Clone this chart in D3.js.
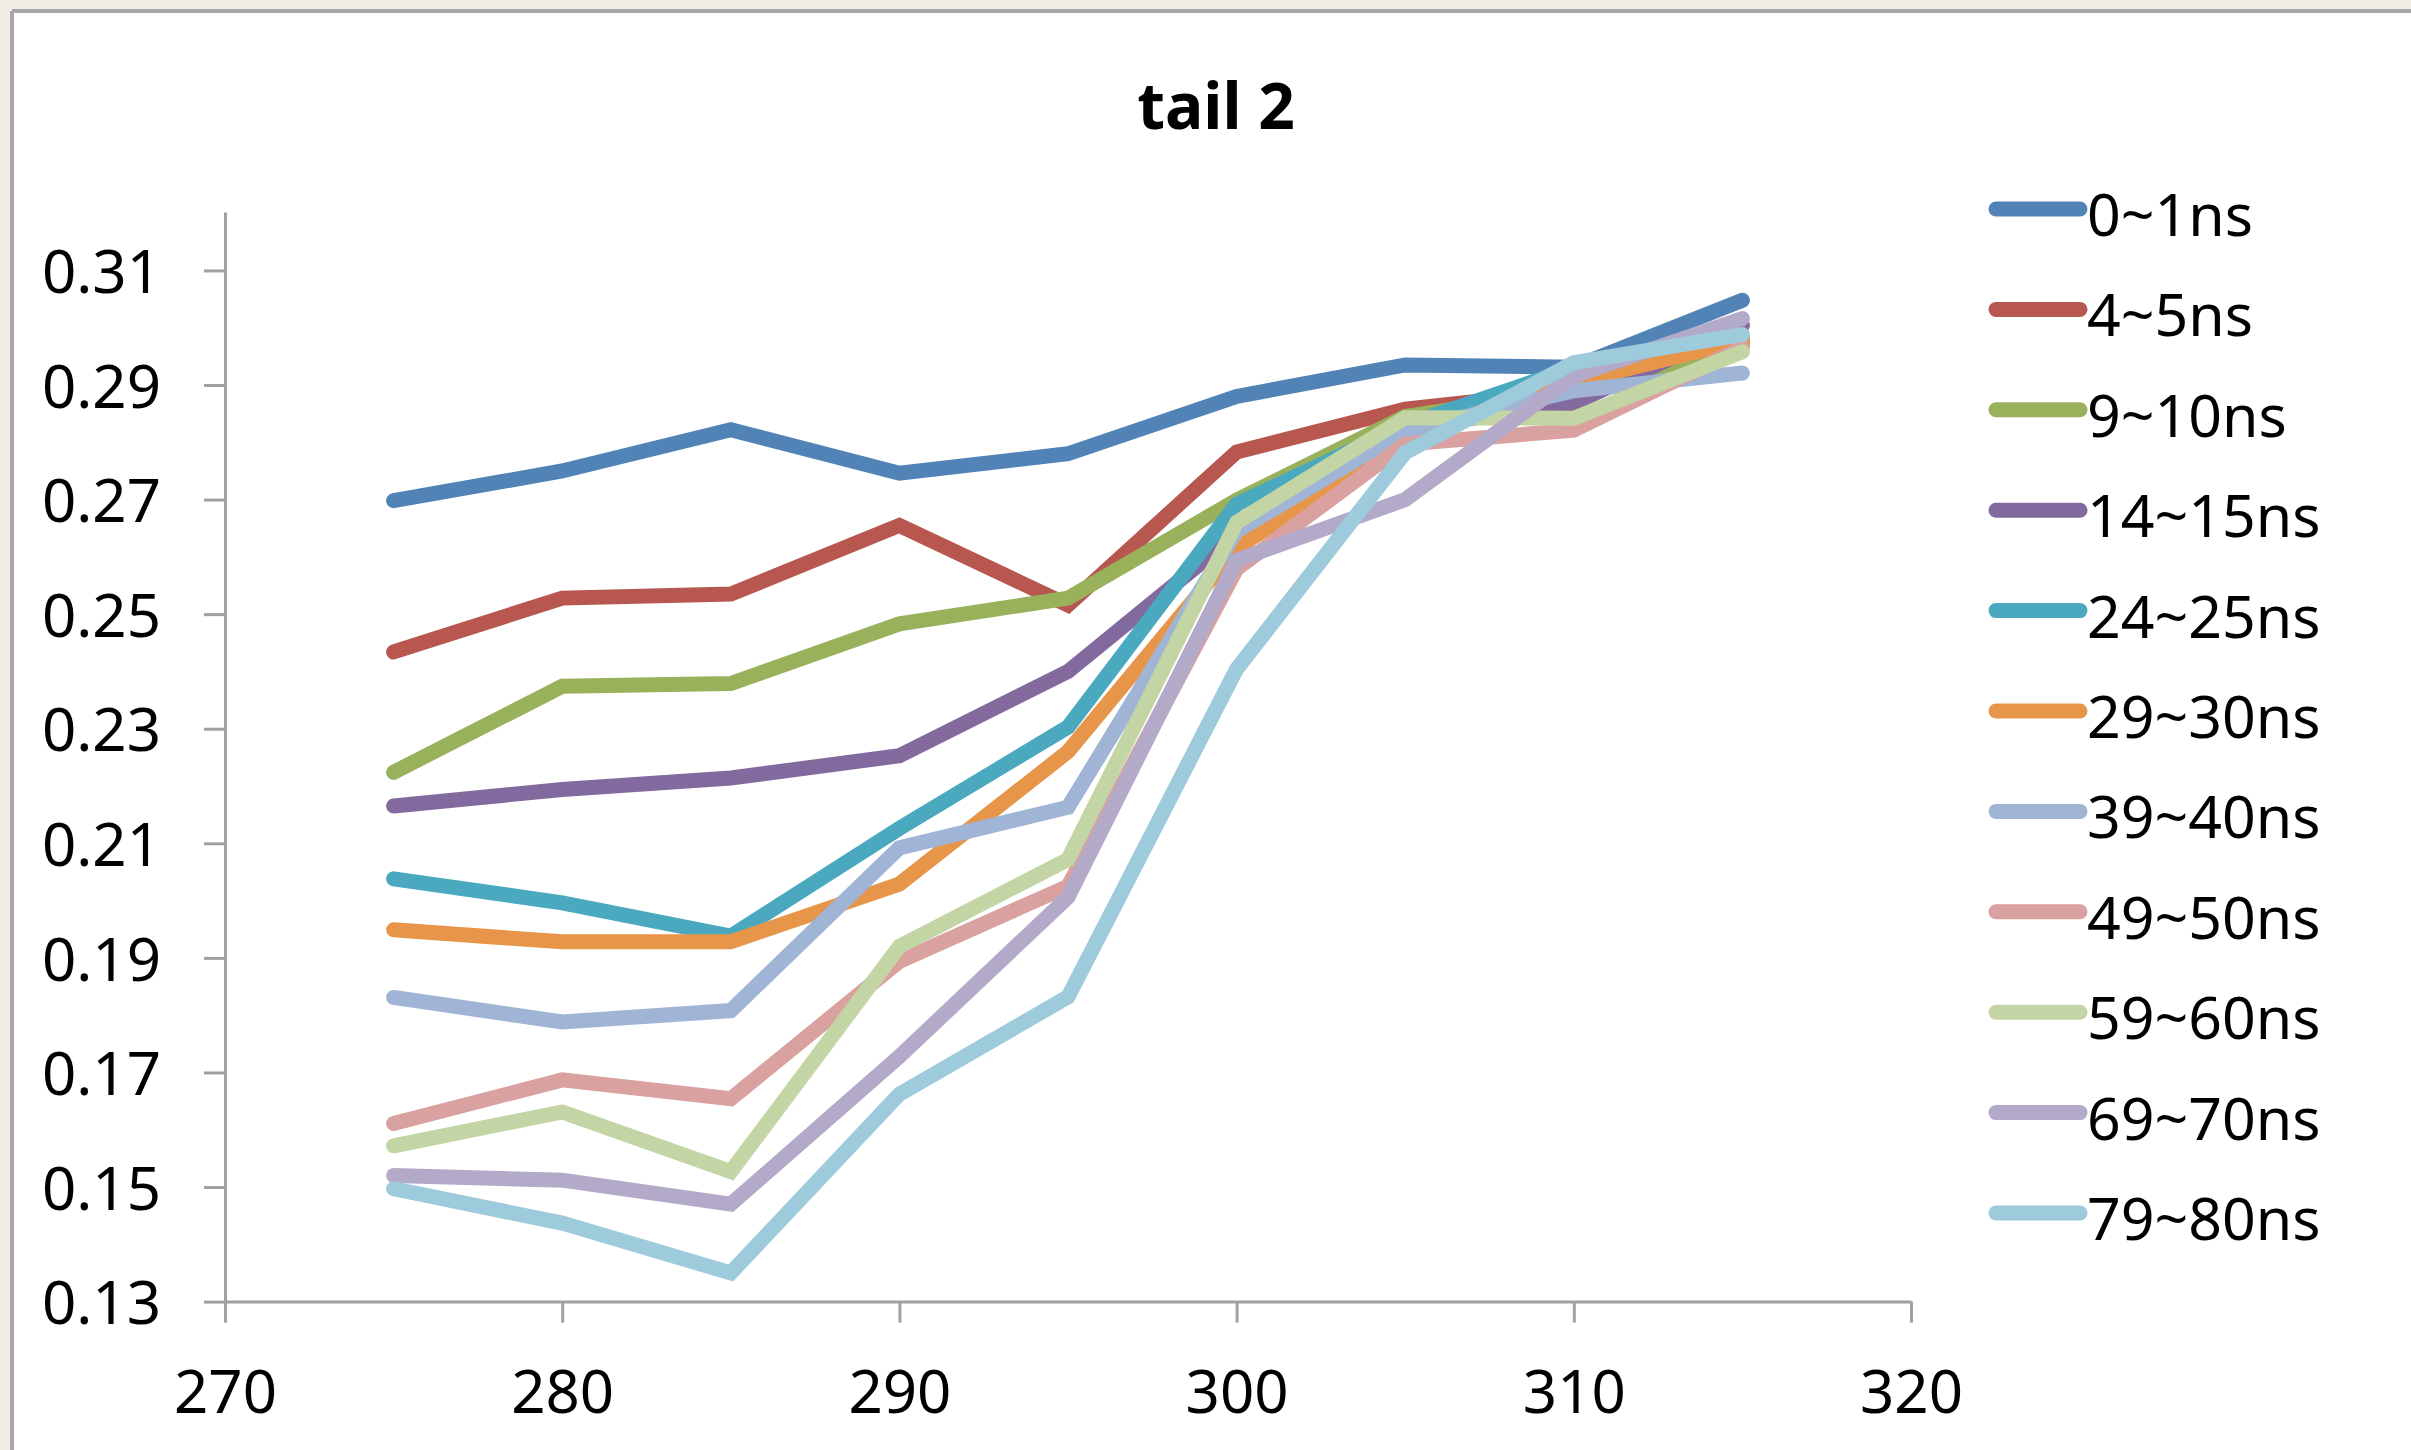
<!DOCTYPE html>
<html>
<head>
<meta charset="utf-8">
<script src="https://cdn.jsdelivr.net/npm/d3@7"></script>
<style>
  html, body { margin: 0; padding: 0; background: #f1eee8; }
  svg { display: block; }
</style>
</head>
<body>
<svg id="chart" width="2411" height="1450"></svg>
<script>
const title = "tail 2";
const xValues = [275, 280, 285, 290, 295, 300, 305, 310, 315];
const seriesNames = ["0~1ns", "4~5ns", "9~10ns", "14~15ns", "24~25ns", "29~30ns", "39~40ns", "49~50ns", "59~60ns", "69~70ns", "79~80ns"];
const seriesColors = ["#5183B6", "#B85650", "#9AB15C", "#826A9F", "#4AA8BF", "#E69549", "#A0B4D6", "#D9A19F", "#C3D5A4", "#B3A9C9", "#9DCBDB"];
const s0 = [0.2698, 0.2750, 0.2822, 0.2746, 0.2780, 0.2880, 0.2935, 0.2931, 0.3048];
const s4 = [0.2434, 0.2528, 0.2535, 0.2655, 0.2516, 0.2783, 0.2858, 0.2890, 0.2975];
const s9 = [0.2224, 0.2374, 0.2379, 0.2483, 0.2528, 0.2699, 0.2845, 0.2890, 0.2970];
const s14 = [0.2165, 0.2194, 0.2214, 0.2253, 0.2400, 0.2640, 0.2825, 0.2868, 0.3004];
const s24 = [0.2038, 0.1996, 0.1938, 0.2126, 0.2303, 0.2692, 0.2830, 0.2930, 0.2982];
const s29 = [0.1949, 0.1928, 0.1928, 0.2029, 0.2260, 0.2615, 0.2810, 0.2905, 0.2978];
const s39 = [0.1831, 0.1788, 0.1808, 0.2092, 0.2163, 0.2645, 0.2820, 0.2890, 0.2921];
const s49 = [0.1611, 0.1687, 0.1654, 0.1894, 0.2025, 0.2579, 0.2797, 0.2821, 0.2965];
const s59 = [0.1572, 0.1631, 0.1527, 0.1920, 0.2072, 0.2660, 0.2843, 0.2842, 0.2958];
const s69 = [0.1520, 0.1512, 0.1470, 0.1728, 0.2006, 0.2594, 0.2700, 0.2916, 0.3016];
const s79 = [0.1497, 0.1437, 0.1350, 0.1662, 0.1832, 0.2404, 0.2782, 0.2939, 0.2988];
const seriesValues = [s0, s4, s9, s14, s24, s29, s39, s49, s59, s69, s79];
const xTicks = [270, 280, 290, 300, 310, 320];
const yTicks = [0.13, 0.15, 0.17, 0.19, 0.21, 0.23, 0.25, 0.27, 0.29, 0.31];

const svg = d3.select("#chart");
const W = 2411, H = 1450;
const axisColor = "#a0a0a0";
const font = "'Noto Sans', 'Open Sans', sans-serif";

// frame
svg.append("rect").attr("x", 0).attr("y", 0).attr("width", W).attr("height", H).attr("fill", "#f1eee8");
svg.append("rect").attr("x", 12).attr("y", 12).attr("width", W - 12).attr("height", H - 12).attr("fill", "#ffffff");
svg.append("line").attr("x1", 12).attr("x2", W).attr("y1", 11).attr("y2", 11).attr("stroke", "#a8a8a8").attr("stroke-width", 4);
svg.append("line").attr("x1", 12).attr("x2", 12).attr("y1", 11).attr("y2", H).attr("stroke", "#a8a8a8").attr("stroke-width", 4);

const x = d3.scaleLinear().domain([270, 320]).range([225, 1911]);
const y = d3.scaleLinear().domain([0.13, 0.3202]).range([1301.6, 212]);

// title
svg.append("text").attr("x", 1216).attr("y", 129).attr("text-anchor", "middle")
  .attr("font-family", font).attr("font-weight", "bold").attr("font-size", 64).attr("fill", "#000")
  .text(title);

// axes
const xAxis = d3.axisBottom(x).tickValues(xTicks).tickFormat(d3.format("d")).tickSize(21).tickSizeOuter(0);
const gx = svg.append("g").attr("transform", `translate(0,${y(0.13)})`).call(xAxis);
gx.select(".domain").attr("stroke", axisColor).attr("stroke-width", 3);
gx.selectAll(".tick line").attr("stroke", axisColor).attr("stroke-width", 3);
gx.selectAll(".tick text").attr("font-family", font).attr("font-size", 60).attr("fill", "#000")
  .attr("dy", null).attr("y", 111);

const yAxis = d3.axisLeft(y).tickValues(yTicks).tickFormat(d3.format(".2f")).tickSize(21).tickSizeOuter(0);
const gy = svg.append("g").attr("transform", `translate(${x(270)},0)`).call(yAxis);
gy.select(".domain").attr("stroke", axisColor).attr("stroke-width", 3);
gy.selectAll(".tick line").attr("stroke", axisColor).attr("stroke-width", 3);
gy.selectAll(".tick text").attr("font-family", font).attr("font-size", 60).attr("fill", "#000")
  .attr("x", -64).attr("dy", "0.37em");

// lines
const line = d3.line().x((d, i) => x(xValues[i])).y(d => y(d));
svg.append("g").selectAll("path").data(seriesValues).join("path")
  .attr("d", d => line(d))
  .attr("fill", "none")
  .attr("stroke", (d, i) => seriesColors[i])
  .attr("stroke-width", 15)
  .attr("stroke-linecap", "round")
  .attr("stroke-linejoin", "miter");

// legend
const lg = svg.append("g");
seriesNames.forEach((name, i) => {
  const ly = 209 + i * 100.4;
  lg.append("line").attr("x1", 1996).attr("x2", 2080).attr("y1", ly).attr("y2", ly)
    .attr("stroke", seriesColors[i]).attr("stroke-width", 15).attr("stroke-linecap", "round");
  lg.append("text").attr("x", 2087).attr("y", ly + 27)
    .attr("font-family", font).attr("font-size", 59).attr("fill", "#000").text(name);
});
</script>
</body>
</html>
